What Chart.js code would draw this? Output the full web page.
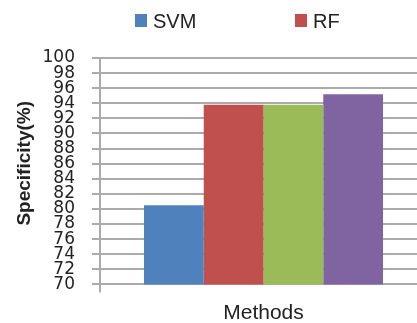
<!DOCTYPE html>
<html>
<head>
<meta charset="utf-8">
<script src="https://cdn.jsdelivr.net/npm/chart.js@4/dist/chart.umd.min.js"></script>
<style>
  html, body { margin: 0; padding: 0; background: #fff; overflow: hidden; width: 417px; height: 323px; }
  #wrap { position: relative; width: 417px; height: 323px; overflow: hidden; }
  canvas { position: absolute; left: 0; top: 0; }
  .lg { position: absolute; top: 10px; height: 20px; line-height: 20px; font: 20px "Liberation Sans", Arial, sans-serif; color: #222; white-space: nowrap; }
  .lg i { position: absolute; left: -18px; top: 4px; width: 12px; height: 13px; }
</style>
</head>
<body>
<div id="wrap">
  <canvas id="c" width="427" height="323"></canvas>
</div>
<script>
// Category and series data
const categories = ['Methods'];
const seriesNames = ['SVM', 'RF', 'KNN', 'Proposed'];
const seriesValues = [[80.5], [93.8], [93.8], [95.2]];
const seriesColors = ['#4F81BD', '#C0504D', '#9BBB59', '#8064A2'];
const yTicks = [70, 72, 74, 76, 78, 80, 82, 84, 86, 88, 90, 92, 94, 96, 98, 100];

// Legend row (only the first two entries fit on the visible line)
const legendX = [153, 313];
legendX.forEach((x, i) => {
  const d = document.createElement('div');
  d.className = 'lg';
  d.style.left = x + 'px';
  const sw = document.createElement('i');
  sw.style.background = seriesColors[i];
  d.appendChild(sw);
  d.appendChild(document.createTextNode(seriesNames[i]));
  document.getElementById('wrap').appendChild(d);
});

const gridColor = '#ababab';

new Chart(document.getElementById('c'), {
  type: 'bar',
  data: {
    labels: categories,
    datasets: seriesNames.map((n, i) => ({
      label: n,
      data: seriesValues[i],
      backgroundColor: seriesColors[i],
      borderWidth: 0,
      categoryPercentage: 0.731,
      barPercentage: 1.0
    }))
  },
  options: {
    responsive: false,
    animation: false,
    devicePixelRatio: 1,
    layout: { padding: { top: 58, left: 0, right: 0, bottom: 0 } },
    plugins: { legend: { display: false }, tooltip: { enabled: false } },
    scales: {
      x: {
        grid: { display: true, drawOnChartArea: false, drawTicks: true, tickLength: 8, color: gridColor, lineWidth: 2 },
        border: { display: true, color: gridColor, width: 2 },
        ticks: { color: '#222', font: { family: 'Liberation Sans', size: 21 }, padding: 8 },
        afterFit: (s) => { s.height = 38.6; }
      },
      y: {
        min: 70,
        max: 100,
        afterBuildTicks: (s) => { s.ticks = yTicks.map(v => ({ value: v })); },
        grid: { color: gridColor, lineWidth: 2, tickLength: 8 },
        border: { display: true, color: gridColor, width: 2 },
        ticks: {
          autoSkip: false,
          color: '#222',
          padding: 17,
          font: { family: 'DejaVu Sans', size: 17 }
        },
        title: {
          display: true,
          text: '   Specificity(%)',
          color: '#222',
          font: { family: 'Liberation Sans', size: 19, weight: 'bold' },
          padding: { top: 13, bottom: 0 }
        },
        afterFit: (s) => { s.width = 100; }
      }
    }
  }
});
</script>
</body>
</html>
